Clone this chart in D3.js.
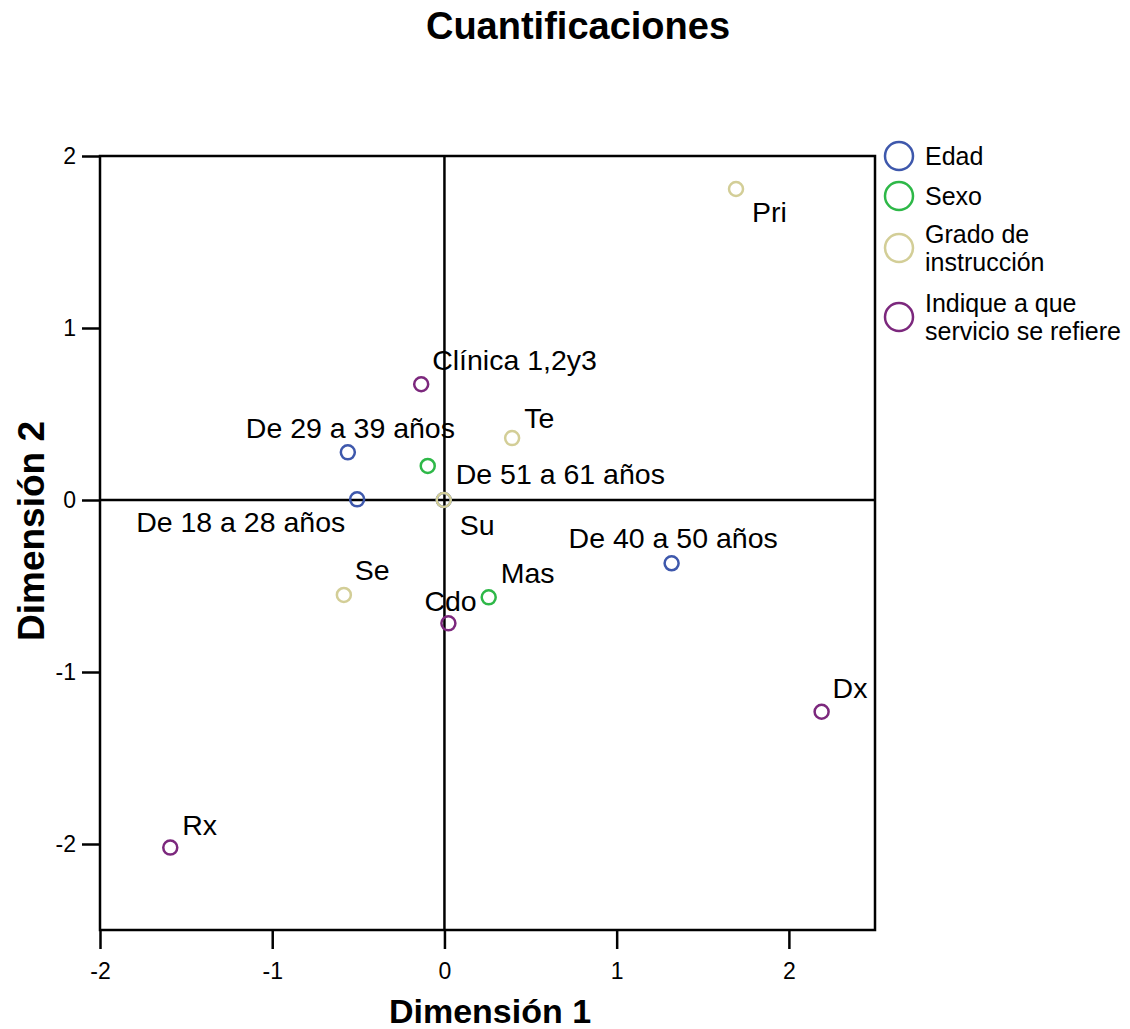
<!DOCTYPE html>
<html><head><meta charset="utf-8">
<script src="https://cdn.jsdelivr.net/npm/d3@7"></script>
<style>
body{margin:0;background:#fff;}
text{font-family:"Liberation Sans",Arial,sans-serif;fill:#000;}
</style></head>
<body><svg id="chart" width="1130" height="1029"></svg>
<script>
// ---- data ----
const seriesNames = ["Edad", "Sexo", "Grado de instrucción", "Indique a que servicio se refiere"];
const legendLines = [["Edad"], ["Sexo"], ["Grado de", "instrucción"], ["Indique a que", "servicio se refiere"]];
const seriesColors = ["#3E58AC", "#2EB848", "#D3CE97", "#7C287D"];

const edadCats = ["De 18 a 28 años", "De 29 a 39 años", "De 40 a 50 años", "De 51 a 61 años"];
const edadX = [-0.507, -0.561, 1.319, -0.004];
const edadY = [0.004, 0.277, -0.368, 0.0];

const sexoCats = ["Fem", "Mas"];
const sexoX = [-0.097, 0.257];
const sexoY = [0.198, -0.566];

const gradoCats = ["Pri", "Se", "Te", "Su"];
const gradoX = [1.693, -0.584, 0.393, -0.004];
const gradoY = [1.808, -0.552, 0.360, 0.0];

const servCats = ["Clínica 1,2y3", "Cdo", "Dx", "Rx"];
const servX = [-0.135, 0.023, 2.19, -1.592];
const servY = [0.673, -0.717, -1.231, -2.021];

const xTicks = [-2, -1, 0, 1, 2];
const yTicks = [-2, -1, 0, 1, 2];
const xDomain = [-2, 2.5];
const yDomain = [-2.5, 2];

// label placement (layout only): [dx, dy] in px from point; null = hidden
const labelOffsets = {
  "De 18 a 28 años": [-221, 33], "De 29 a 39 años": [-102, -14], "De 40 a 50 años": [-103, -15], "De 51 a 61 años": [12, -16],
  "Fem": null, "Mas": [12, -14],
  "Pri": [16, 33], "Se": [11, -15], "Te": [12, -10], "Su": [16, 35],
  "Clínica 1,2y3": [11, -14], "Cdo": [-24, -12], "Dx": [11, -14], "Rx": [12, -13]
};

const allSeries = [
  {cats: edadCats, xs: edadX, ys: edadY},
  {cats: sexoCats, xs: sexoX, ys: sexoY},
  {cats: gradoCats, xs: gradoX, ys: gradoY},
  {cats: servCats, xs: servX, ys: servY}
];

// ---- chart ----
const svg = d3.select("#chart");
const L = 100, R = 875, T = 156, B = 930;
const x = d3.scaleLinear().domain(xDomain).range([L, R]);
const y = d3.scaleLinear().domain(yDomain).range([B, T]);

svg.append("text").attr("x", 578).attr("y", 39).attr("text-anchor", "middle")
  .attr("font-size", 38).attr("font-weight", "bold").text("Cuantificaciones");

// axes
const fmt = d => String(d);
const xAxis = svg.append("g").attr("transform", `translate(0,${B})`)
  .call(d3.axisBottom(x).tickValues(xTicks).tickSize(19).tickPadding(14).tickFormat(fmt));
const yAxis = svg.append("g").attr("transform", `translate(${L},0)`)
  .call(d3.axisLeft(y).tickValues(yTicks).tickSize(18).tickPadding(6).tickFormat(fmt));
[xAxis, yAxis].forEach(a => {
  a.select(".domain").remove();
  a.selectAll("line").attr("stroke", "#000").attr("stroke-width", 2.5);
  a.selectAll("text").attr("font-size", 23).attr("font-family", "Liberation Sans, Arial, sans-serif").attr("fill", "#000");
});

// frame
svg.append("rect").attr("x", L).attr("y", T).attr("width", R - L).attr("height", B - T)
  .attr("fill", "none").attr("stroke", "#000").attr("stroke-width", 2.5);
// zero lines
svg.append("line").attr("x1", x(0)).attr("x2", x(0)).attr("y1", T).attr("y2", B).attr("stroke", "#000").attr("stroke-width", 2.5);
svg.append("line").attr("x1", L).attr("x2", R).attr("y1", y(0)).attr("y2", y(0)).attr("stroke", "#000").attr("stroke-width", 2.5);

// axis titles
svg.append("text").attr("x", 490).attr("y", 1023).attr("text-anchor", "middle")
  .attr("font-size", 34).attr("font-weight", "bold").text("Dimensión 1");
svg.append("text").attr("transform", "translate(44,531) rotate(-90)").attr("text-anchor", "middle")
  .attr("font-size", 37).attr("font-weight", "bold").text("Dimensión 2");

// points + labels
allSeries.forEach((s, si) => {
  const g = svg.append("g");
  s.cats.forEach((c, i) => {
    g.append("circle").attr("cx", x(s.xs[i])).attr("cy", y(s.ys[i])).attr("r", 7)
      .attr("fill", "none").attr("stroke", seriesColors[si]).attr("stroke-width", 2.5);
  });
});
allSeries.forEach((s, si) => {
  s.cats.forEach((c, i) => {
    const off = labelOffsets[c];
    if (!off) return;
    svg.append("text").attr("x", x(s.xs[i]) + off[0]).attr("y", y(s.ys[i]) + off[1])
      .attr("font-size", 28.5).text(c);
  });
});

// legend
const legendY = [156, 196, 248, 317];
seriesNames.forEach((n, i) => {
  svg.append("circle").attr("cx", 899).attr("cy", legendY[i]).attr("r", 14)
    .attr("fill", "none").attr("stroke", seriesColors[i]).attr("stroke-width", 2.5);
  const lines = legendLines[i];
  const t = svg.append("text").attr("x", 925).attr("font-size", 25);
  lines.forEach((ln, k) => {
    const yy = lines.length === 1 ? legendY[i] + 9 : legendY[i] - 5 + k * 28;
    t.append("tspan").attr("x", 925).attr("y", yy).text(ln);
  });
});
</script></body></html>
